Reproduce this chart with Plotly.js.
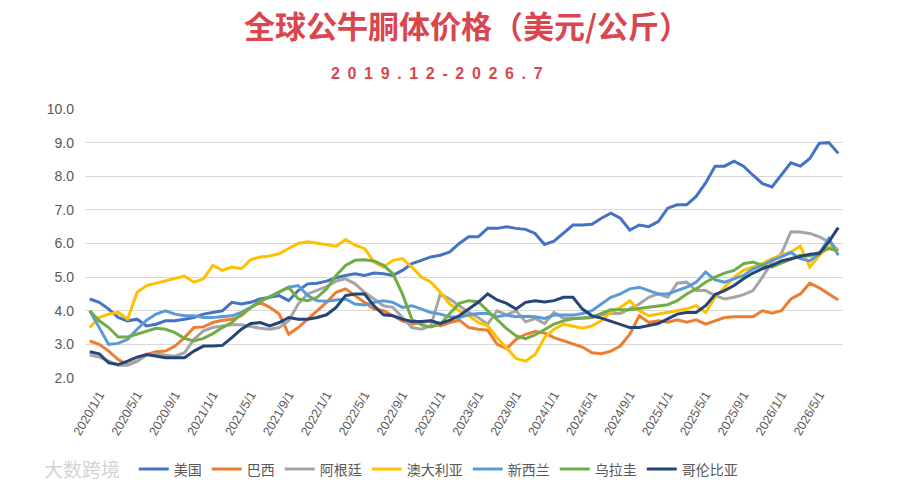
<!DOCTYPE html>
<html>
<head>
<meta charset="utf-8">
<script src="https://cdn.plot.ly/plotly-3.0.1.min.js"></script>
<style>
html,body{margin:0;padding:0;background:#fff;}
#chart{width:900px;height:485px;}
</style>
</head>
<body>
<div id="chart"></div>
<script>
// Monthly categories 2019/12 .. 2026/7
var months = [];
(function(){
  var y = 2019, m = 12;
  while (y < 2026 || (y === 2026 && m <= 7)) {
    months.push(y + '/' + m + '/1');
    m++; if (m > 12) { m = 1; y++; }
  }
})();

var tickLabels = ['2020/1/1','2020/5/1','2020/9/1','2021/1/1','2021/5/1','2021/9/1','2022/1/1','2022/5/1','2022/9/1','2023/1/1','2023/5/1','2023/9/1','2024/1/1','2024/5/1','2024/9/1','2025/1/1','2025/5/1','2025/9/1','2026/1/1','2026/5/1'];

var seriesNames = ['美国','巴西','阿根廷','澳大利亚','新西兰','乌拉圭','哥伦比亚'];

var usa = [4.35,4.25,4.05,3.8,3.7,3.75,3.55,3.6,3.7,3.7,3.75,3.8,3.9,3.95,4.0,4.25,4.2,4.25,4.35,4.4,4.45,4.3,4.6,4.8,4.82,4.88,4.98,5.05,5.1,5.05,5.12,5.1,5.05,5.2,5.4,5.5,5.6,5.65,5.75,6.0,6.2,6.2,6.45,6.45,6.5,6.45,6.42,6.3,5.97,6.07,6.3,6.55,6.55,6.57,6.75,6.9,6.75,6.4,6.55,6.5,6.65,7.05,7.15,7.15,7.4,7.8,8.3,8.3,8.45,8.3,8.03,7.78,7.68,8.03,8.4,8.3,8.53,8.98,9.0,8.68];
var brazil = [3.1,3.0,2.8,2.55,2.4,2.5,2.7,2.78,2.8,2.95,3.2,3.5,3.52,3.65,3.72,3.75,3.85,4.1,4.25,4.1,3.9,3.3,3.5,3.75,4.0,4.25,4.55,4.65,4.45,4.25,4.05,4.0,3.85,3.7,3.6,3.65,3.7,3.55,3.65,3.72,3.5,3.45,3.42,3.0,2.88,3.15,3.3,3.38,3.34,3.2,3.1,3.0,2.92,2.75,2.72,2.8,2.95,3.3,3.85,3.65,3.7,3.66,3.73,3.66,3.73,3.6,3.7,3.8,3.82,3.82,3.82,4.0,3.93,4.0,4.35,4.5,4.82,4.68,4.5,4.32];
var argentina = [2.68,2.62,2.5,2.38,2.38,2.5,2.68,2.72,2.68,2.65,2.75,3.15,3.4,3.5,3.55,3.58,3.58,3.52,3.48,3.45,3.5,3.7,4.2,4.5,4.62,4.72,4.88,4.95,4.8,4.55,4.35,4.15,4.1,3.8,3.5,3.45,3.55,4.5,4.35,4.15,3.95,3.8,3.6,4.0,3.88,4.0,3.67,3.77,3.62,3.95,3.78,3.78,3.78,3.8,3.88,3.92,3.92,4.05,4.2,4.4,4.5,4.4,4.82,4.85,4.6,4.6,4.45,4.35,4.4,4.48,4.6,5.0,5.45,5.7,6.35,6.34,6.3,6.2,6.05,5.8];
var australia = [3.5,3.8,3.9,3.95,3.75,4.55,4.75,4.82,4.88,4.95,5.03,4.85,4.95,5.35,5.2,5.3,5.25,5.52,5.6,5.63,5.7,5.85,6.0,6.05,6.0,5.95,5.92,6.12,5.95,5.85,5.45,5.3,5.5,5.55,5.3,5.0,4.85,4.55,4.2,4.0,3.85,3.65,3.55,3.2,2.88,2.58,2.5,2.7,3.2,3.45,3.6,3.55,3.48,3.55,3.7,3.95,4.1,4.3,4.0,3.85,3.9,3.95,4.0,4.05,4.15,3.95,4.4,4.7,5.0,5.2,5.3,5.4,5.55,5.65,5.75,5.92,5.3,5.65,5.9,5.8];
var newZealand = [4.0,3.5,3.0,3.03,3.15,3.45,3.72,3.9,4.0,3.9,3.85,3.85,3.8,3.8,3.82,3.85,3.95,4.1,4.3,4.4,4.55,4.7,4.75,4.45,4.3,4.28,4.32,4.35,4.2,4.17,4.25,4.3,4.25,4.1,4.15,4.05,3.95,3.9,3.82,3.8,3.88,3.92,3.92,3.82,3.87,3.82,3.84,3.82,3.77,3.87,3.87,3.87,3.92,4.0,4.2,4.4,4.5,4.65,4.7,4.6,4.5,4.5,4.6,4.7,4.85,5.15,4.92,4.85,4.95,5.05,5.25,5.35,5.5,5.6,5.73,5.55,5.48,5.7,6.15,5.65];
var uruguay = [4.0,3.7,3.5,3.22,3.22,3.3,3.38,3.48,3.45,3.35,3.18,3.1,3.18,3.32,3.5,3.65,3.9,4.1,4.28,4.42,4.55,4.7,4.35,4.3,4.4,4.65,5.05,5.35,5.5,5.52,5.48,5.35,5.1,4.5,3.75,3.58,3.52,3.6,3.92,4.22,4.3,4.27,4.0,3.75,3.47,3.25,3.17,3.28,3.44,3.6,3.7,3.76,3.78,3.8,3.92,4.03,4.03,4.03,4.07,4.1,4.15,4.18,4.3,4.5,4.65,4.85,5.0,5.12,5.2,5.4,5.45,5.35,5.3,5.42,5.55,5.65,5.63,5.75,5.85,5.78];
var colombia = [2.78,2.72,2.45,2.4,2.5,2.62,2.7,2.65,2.6,2.6,2.6,2.8,2.95,2.95,2.97,3.2,3.45,3.62,3.65,3.55,3.65,3.8,3.75,3.75,3.8,3.88,4.1,4.45,4.5,4.5,4.15,3.88,3.85,3.75,3.68,3.68,3.7,3.62,3.72,3.85,4.05,4.25,4.5,4.32,4.22,4.05,4.25,4.3,4.26,4.3,4.4,4.4,4.05,3.85,3.78,3.68,3.58,3.5,3.5,3.55,3.62,3.76,3.9,3.95,3.95,4.15,4.48,4.6,4.75,4.95,5.12,5.25,5.35,5.48,5.55,5.6,5.68,5.7,6.05,6.47];

var seriesValues = [usa, brazil, argentina, australia, newZealand, uruguay, colombia];
var seriesColors = ['#4472C4','#ED7D31','#A5A5A5','#FFC000','#5B9BD5','#70AD47','#264478'];

var traces = seriesNames.map(function(name, k){
  return {
    type: 'scatter', mode: 'lines', name: name,
    x: months, y: seriesValues[k],
    line: {color: seriesColors[k], width: 3},
    hoverinfo: 'skip'
  };
});

var titleText = '全球公牛胴体价格（美元/公斤）';
var subText = '2019.12-2026.7'.split('').join('\u00A0\u2009');

var layout = {
  width: 900, height: 485,
  margin: {l: 85, r: 57, t: 109, b: 107, autoexpand: false},
  paper_bgcolor: '#ffffff', plot_bgcolor: '#ffffff',
  font: {family: '"Noto Sans CJK SC", "Liberation Sans", Arial, sans-serif', color: '#595959'},
  showlegend: true,
  legend: {
    orientation: 'h', x: 0.466, xanchor: 'center', y: -0.34, yanchor: 'middle',
    font: {size: 14, color: '#595959'}, itemwidth: 30, tracegroupgap: 0
  },
  xaxis: {
    type: 'category', range: [-0.5, months.length - 0.5], automargin: false,
    tickvals: tickLabels, ticktext: tickLabels,
    tickangle: -60, tickfont: {size: 12.5, color: '#595959', family: '"Liberation Sans", Arial, sans-serif'},
    showgrid: false, showline: false, zeroline: false, ticks: '', ticklabelstandoff: 6
  },
  yaxis: {
    range: [2, 10], dtick: 1, tick0: 2, tickformat: '.1f', automargin: false,
    tickfont: {size: 14, color: '#595959', family: '"Liberation Sans", Arial, sans-serif'},
    showgrid: true, gridcolor: '#D9D9D9', gridwidth: 1,
    zeroline: false, showline: false, ticks: '', ticklabelstandoff: 10
  },
  annotations: [
    {text: '<b>' + titleText + '</b>', xref: 'paper', yref: 'paper', x: (467-85)/758, y: (378-24)/269,
     xanchor: 'center', yanchor: 'middle', showarrow: false,
     font: {size: 31, color: '#D9464E', family: '"Noto Sans CJK SC", sans-serif'}},
    {text: '<b>' + subText + '</b>', xref: 'paper', yref: 'paper', x: (437-85)/758, y: (378-74)/269,
     xanchor: 'center', yanchor: 'middle', showarrow: false,
     font: {size: 16, color: '#D9464E', family: '"Liberation Sans", Arial, sans-serif'}},
    {text: '大数跨境', xref: 'paper', yref: 'paper', x: (42-85)/758, y: (378-468)/269,
     xanchor: 'left', yanchor: 'middle', showarrow: false,
     font: {size: 19, color: '#D4D4D4', family: '"Noto Sans CJK SC", sans-serif'}}
  ]
};

Plotly.newPlot('chart', traces, layout, {displayModeBar: false, staticPlot: true});
</script>
</body>
</html>
